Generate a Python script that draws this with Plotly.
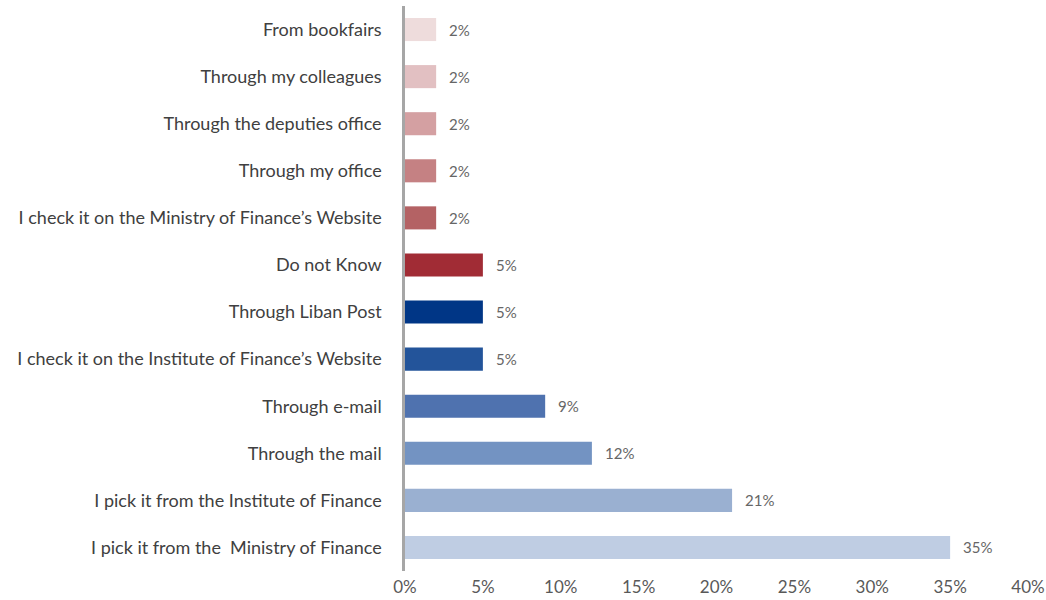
import plotly.graph_objects as go

# Survey answers, listed bottom to top
channels = [
    "I pick it from the  Ministry of Finance",
    "I pick it from the Institute of Finance",
    "Through the mail",
    "Through e-mail",
    "I check it on the Institute of Finance\u2019s Website",
    "Through Liban Post",
    "Do not Know",
    "I check it on the Ministry of Finance\u2019s Website",
    "Through my office",
    "Through the deputies office",
    "Through my colleagues",
    "From bookfairs",
]
shares = [35, 21, 12, 9, 5, 5, 5, 2, 2, 2, 2, 2]
bar_colors = [
    "#BFCDE3", "#9AB0D1", "#7393C2", "#4F72AF", "#23549A", "#003686",
    "#A12C35", "#B46264", "#C58183", "#D4A0A2", "#E2C0C2", "#EEDCDC",
]
tick_values = [0, 5, 10, 15, 20, 25, 30, 35, 40]
tick_labels = [f"{v}%" for v in tick_values]

FONT = "Lato, 'Open Sans', sans-serif"

fig = go.Figure(
    go.Bar(
        x=shares,
        y=channels,
        orientation="h",
        marker=dict(color=bar_colors, line=dict(width=0)),
        hoverinfo="skip",
    )
)

for ch, v in zip(channels, shares):
    fig.add_annotation(
        x=v, y=ch, text=f"{v}%", showarrow=False,
        xanchor="left", xshift=11,
        font=dict(family=FONT, size=15, color="#666666"),
    )

fig.update_layout(
    width=1046, height=600,
    margin=dict(l=405, r=18, t=6, b=29),
    paper_bgcolor="white", plot_bgcolor="white",
    bargap=0.51,
    showlegend=False,
    font=dict(family=FONT, size=18, color="#404040"),
    xaxis=dict(
        range=[0, 40], tickvals=tick_values, ticktext=tick_labels,
        showgrid=False, zeroline=False, showline=False,
        ticks="", ticklabelstandoff=4, automargin=False,
        tickfont=dict(family=FONT, size=17, color="#595959"),
        fixedrange=True,
    ),
    yaxis=dict(
        categoryorder="array", categoryarray=channels,
        range=[-0.5, len(channels) - 0.5],
        showgrid=False, zeroline=False,
        showline=True, linecolor="#A6A6A6", linewidth=2.5,
        ticks="", ticklabelstandoff=17, automargin=False,
        tickfont=dict(family=FONT, size=18, color="#404040"),
        fixedrange=True,
    ),
)

fig.write_html("out.html")
